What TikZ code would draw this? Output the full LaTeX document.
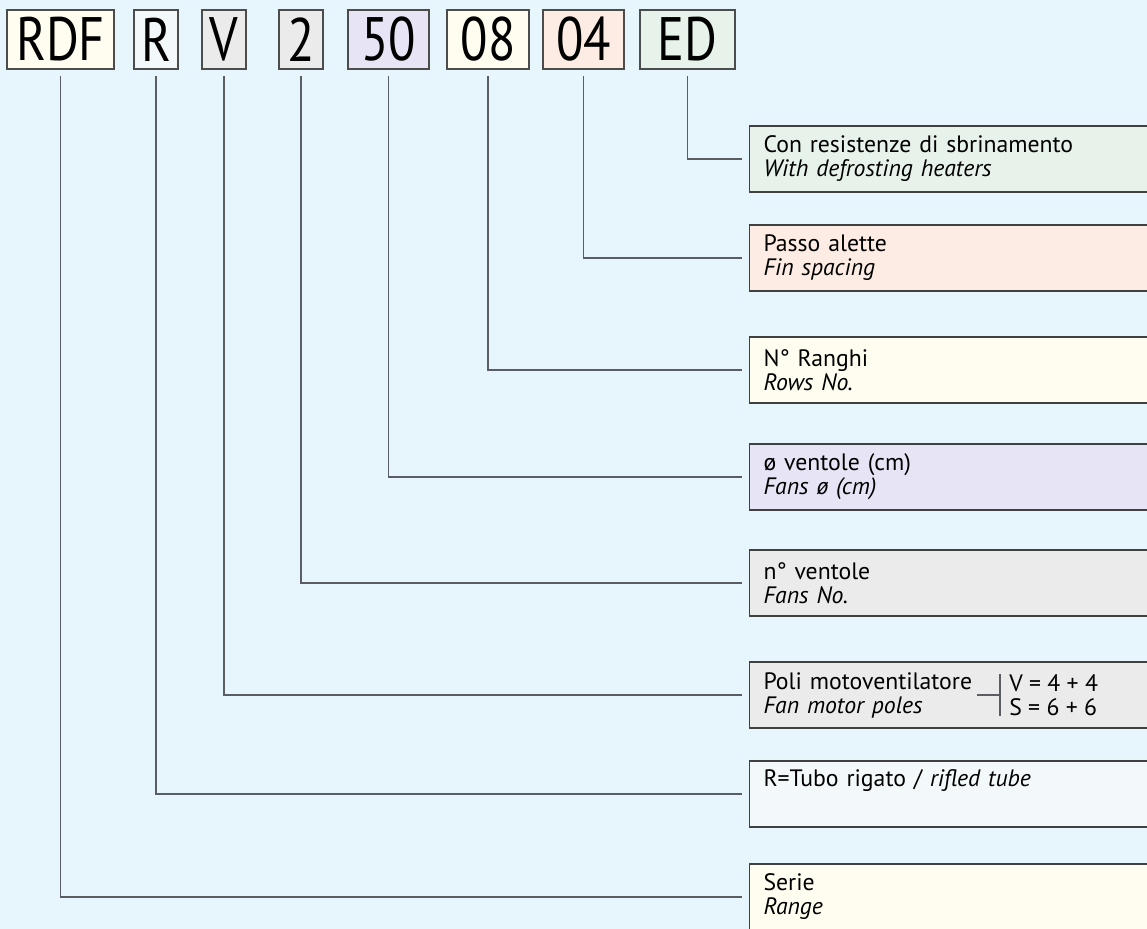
\documentclass[tikz,border=0pt]{standalone}
\usepackage{fontspec}
\setmainfont{PT Sans}
\usepackage{graphicx}
\definecolor{bgblue}{HTML}{E7F5FD}
\definecolor{cream}{HTML}{FFFDEF}
\definecolor{paleblue}{HTML}{F3F9FB}
\definecolor{lightgrey}{HTML}{EBEBEB}
\definecolor{lavender}{HTML}{E7E5F5}
\definecolor{peach}{HTML}{FDECE3}
\definecolor{mint}{HTML}{E7F3EA}
\definecolor{linegrey}{HTML}{5A5E63}
\tikzset{
  codebox/.style={draw=black!70, line width=0.8pt, inner sep=0pt, minimum height=44.25pt,
    font=\fontsize{46}{46}\selectfont},
  labelbox/.style={draw=black!75, line width=0.8pt, anchor=west, minimum height=49.5pt,
    text width=300pt, align=left, inner xsep=10.5pt, inner ysep=0pt,
    font=\fontsize{17.8}{18}\selectfont},
  link/.style={draw=linegrey, line width=1pt, shorten <=4.5pt, shorten >=5.25pt}
}
\begin{document}
\begin{tikzpicture}[x=0.75pt, y=-0.75pt]
\useasboundingbox (0,0) rectangle (1147,929);
\clip (0,0) rectangle (1147,929);
\fill[bgblue] (0,0) rectangle (1147,929);
% code of the model
\foreach \name/\txt/\cx/\w/\col in {cRDF/RDF/60.5/80.25/cream, cR/R/156/33/paleblue,
    cV/V/224/33/lightgrey, c2/2/301/33/lightgrey, c50/50/388.5/60.75/lavender,
    c08/08/488/61.5/cream, c04/04/583.5/60.75/peach, cED/ED/687.5/71.25/mint}
  \node[codebox, fill=\col, minimum width=\w pt] (\name) at (\cx,39.5) {\scalebox{0.82}[1]{\txt}};
% meaning of each part
\node[labelbox, fill=mint] (lDefrost) at (749,159) {Con resistenze di sbrinamento\\\textit{With defrosting heaters}};
\node[labelbox, fill=peach] (lFin) at (749,258) {Passo alette\\\textit{Fin spacing}};
\node[labelbox, fill=cream] (lRows) at (749,370) {N° Ranghi\\\textit{Rows No.}};
\node[labelbox, fill=lavender] (lDiam) at (749,477) {ø ventole (cm)\\\textit{Fans ø (cm)}};
\node[labelbox, fill=lightgrey] (lFans) at (749,583) {n° ventole\\\textit{Fans No.}};
\node[labelbox, fill=lightgrey] (lPoles) at (749,695) {Poli motoventilatore\\\textit{Fan motor poles}};
\node[labelbox, fill=paleblue] (lTube) at (749,794) {R=Tubo rigato / \textit{rifled tube}\\\strut};
\node[labelbox, fill=cream] (lSerie) at (749,897) {Serie\\\textit{Range}};
\node[anchor=west, inner sep=0pt, align=left, font=\fontsize{17.8}{18}\selectfont] (polesval) at (1009,695) {V = 4 + 4\\S = 6 + 6};
\draw[linegrey, line width=1pt] ([xshift=-6.75pt]polesval.north west) -- ([xshift=-6.75pt]polesval.south west);
\draw[linegrey, line width=1pt] ([xshift=-24pt]polesval.west) -- ([xshift=-6.75pt]polesval.west);
% connectors
\foreach \a/\b in {cRDF/lSerie, cR/lTube, cV/lPoles, c2/lFans, c50/lDiam, c08/lRows, c04/lFin, cED/lDefrost}
  \draw[link] (\a.south) |- (\b.west);
\end{tikzpicture}
\end{document}
